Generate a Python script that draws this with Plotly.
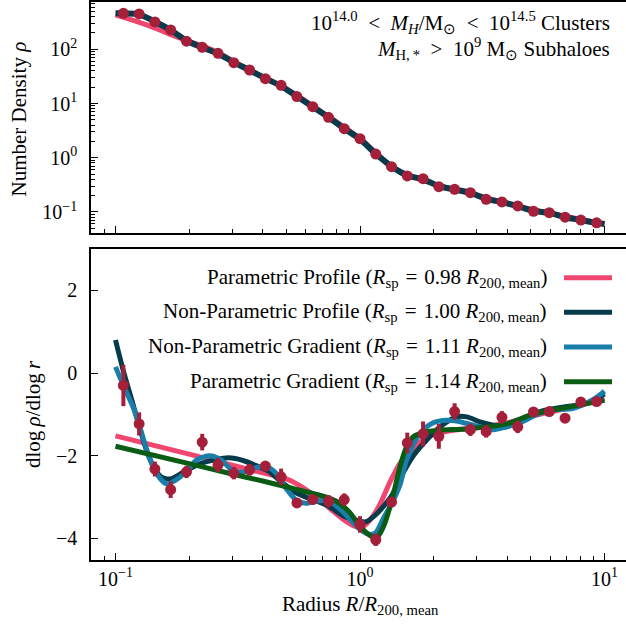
import plotly.graph_objects as go

# ---------------- data ----------------
radius = [0.1077, 0.1249, 0.1449, 0.1681, 0.1951, 0.2263, 0.2626, 0.3047, 0.3535, 0.4101,
          0.4758, 0.5521, 0.6405, 0.7431, 0.8621, 1.0, 1.160, 1.346, 1.561, 1.811,
          2.101, 2.438, 2.828, 3.281, 3.807, 4.417, 5.124, 5.945, 6.898, 8.003, 9.285]
density = [461, 448, 319, 227, 141, 109, 84.4, 56.6, 41.5, 28.7,
           21.7, 13.4, 8.73, 5.57, 3.44, 2.25, 1.17, 0.684, 0.461, 0.411,
           0.292, 0.262, 0.227, 0.171, 0.153, 0.129, 0.103, 0.097, 0.080, 0.071, 0.063]
slope = [-0.30, -1.23, -2.32, -2.82, -2.39, -1.67, -2.22, -2.42, -2.34, -2.25,
         -2.51, -3.14, -3.06, -3.10, -3.06, -3.66, -4.03, -3.12, -1.69, -1.47,
         -1.53, -0.93, -1.37, -1.41, -1.07, -1.30, -0.94, -0.93, -1.09, -0.70, -0.69]
slope_err = [0.50, 0.28, 0.18, 0.20, 0.15, 0.20, 0.17, 0.15, 0.14, 0.10,
             0.20, 0.12, 0.10, 0.15, 0.15, 0.20, 0.15, 0.12, 0.25, 0.30,
             0.30, 0.20, 0.15, 0.15, 0.15, 0.15, 0.06, 0.05, 0.04, 0.05, 0.10]

# top panel fitted profiles
np_prof_r = [0.1, 0.1077, 0.1249, 0.1449, 0.1681, 0.1951, 0.2263, 0.2626, 0.3047, 0.3535, 0.4101,
             0.4758, 0.5521, 0.6405, 0.7431, 0.8621, 1.0, 1.160, 1.346, 1.561, 1.811,
             2.101, 2.438, 2.828, 3.281, 3.807, 4.417, 5.124, 5.945, 6.898, 8.003, 9.285, 10.0]
np_prof_rho = [462, 460, 442, 322, 226, 145, 108, 83, 57.5, 41, 29,
               21, 13.6, 8.7, 5.6, 3.45, 2.2, 1.18, 0.69, 0.47, 0.40,
               0.30, 0.26, 0.225, 0.174, 0.152, 0.128, 0.105, 0.096, 0.080, 0.071, 0.063, 0.060]
p_prof_r = [0.1, 0.134, 0.184, 0.25, 0.35, 0.5, 0.7, 1.0, 1.4, 2.0, 3.0, 4.5, 6.5, 10.0]
p_prof_rho = [430, 281, 160, 97, 42, 18.5, 6.9, 2.25, 0.62, 0.33, 0.205, 0.125, 0.088, 0.060]

# bottom panel: gradients
p_prof_grad_r = [0.1, 0.2, 0.3, 0.4, 0.5, 0.567, 0.64, 0.745, 0.86, 0.95, 1.02, 1.1, 1.2, 1.33,
                 1.45, 1.58, 1.84, 2.14, 2.5, 3.0, 4.0, 5.0, 7.0, 10.0]
p_prof_grad = [-1.52, -1.96, -2.23, -2.41, -2.56, -2.72, -2.93, -3.25, -3.55, -3.70, -3.72, -3.55,
               -3.20, -2.62, -2.20, -1.94, -1.58, -1.44, -1.37, -1.32, -1.20, -1.05, -0.85, -0.62]

np_prof_grad_r = [0.1, 0.1077, 0.1185, 0.125, 0.135, 0.145, 0.153, 0.162, 0.17, 0.195, 0.22,
                  0.255, 0.29, 0.335, 0.38, 0.43, 0.47, 0.55, 0.64, 0.745, 0.86, 1.0, 1.05,
                  1.163, 1.352, 1.458, 1.652, 1.874, 2.125, 2.485, 2.731, 3.096, 3.51, 3.98,
                  4.51, 5.446, 7.0, 8.457, 10.0]
np_prof_grad = [0.80, 0.05, -0.80, -1.29, -1.93, -2.33, -2.50, -2.56, -2.55, -2.35, -2.20,
                -2.10, -2.05, -2.12, -2.25, -2.40, -2.60, -2.90, -3.06, -3.22, -3.46, -3.58, -3.60,
                -3.42, -2.95, -2.55, -2.00, -1.62, -1.30, -1.06, -1.06, -1.18, -1.26, -1.30,
                -1.14, -0.93, -0.81, -0.73, -0.50]

np_grad_r = [0.1, 0.1077, 0.1185, 0.125, 0.135, 0.145, 0.155, 0.163, 0.175, 0.195, 0.215,
             0.243, 0.27, 0.3, 0.33, 0.37, 0.41, 0.45, 0.5, 0.55, 0.6, 0.65, 0.75, 0.86,
             1.0, 1.1, 1.16, 1.25, 1.352, 1.458, 1.552, 1.76, 1.995, 2.262, 2.485, 2.731,
             3.096, 3.51, 3.98, 4.51, 5.446, 6.175, 7.455, 9.0, 10.0]
np_grad = [0.15, -0.30, -0.85, -1.25, -1.90, -2.35, -2.60, -2.68, -2.60, -2.38, -2.10,
           -2.00, -2.10, -2.35, -2.40, -2.30, -2.25, -2.40, -2.80, -3.08, -3.15, -3.10, -3.10, -3.38,
           -3.78, -3.90, -3.86, -3.50, -3.14, -2.70, -2.10, -1.46, -1.20, -1.14, -1.16, -1.22,
           -1.30, -1.37, -1.30, -1.20, -0.97, -0.89, -0.85, -0.64, -0.44]

p_grad_r = [0.1, 0.2, 0.3, 0.4, 0.5, 0.6, 0.7, 0.8, 0.9, 1.0, 1.1, 1.17, 1.25, 1.352, 1.458,
            1.552, 1.652, 1.874, 2.125, 2.731, 3.98, 5.114, 7.0, 10.0]
p_grad = [-1.77, -2.19, -2.44, -2.61, -2.75, -2.87, -2.97, -3.10, -3.35, -3.70, -3.93, -3.98,
          -3.70, -3.06, -2.26, -1.78, -1.54, -1.42, -1.38, -1.35, -1.23, -0.99, -0.83, -0.66]

x_tickvals = [0.1, 1, 10]
x_ticktext = ["10<sup>\u22121</sup>", "10<sup>0</sup>", "10<sup>1</sup>"]
y1_tickvals = [0.1, 1, 10, 100]
y1_ticktext = ["10<sup>\u22121</sup>", "10<sup>0</sup>", "10<sup>1</sup>", "10<sup>2</sup>"]
y2_tickvals = [-4, -2, 0, 2]

SP = "\u2002"
SL = "\u2004"
legend_labels = [
    f"Parametric Profile (<i>R</i><sub>sp</sub>{SL}={SL}0.98 <i>R</i><sub>200, mean</sub>)",
    f"Non-Parametric Profile (<i>R</i><sub>sp</sub>{SL}={SL}1.00 <i>R</i><sub>200, mean</sub>)",
    f"Non-Parametric Gradient (<i>R</i><sub>sp</sub>{SL}={SL}1.11 <i>R</i><sub>200, mean</sub>)",
    f"Parametric Gradient (<i>R</i><sub>sp</sub>{SL}={SL}1.14 <i>R</i><sub>200, mean</sub>)",
]

# ---------------- style ----------------
FONT = "Liberation Serif"
FS = 20
FS_TXT = 21
PINK = "#ef476f"
NAVY = "#073b4c"
BLUE = "#1a7eab"
GREEN = "#0a5c14"
RED = "#a4203a"
colors = [PINK, NAVY, BLUE, GREEN]

W, H = 626, 628
ML, MR, MT, MB = 91, 0, 2, 68
PW, PH = W - ML - MR, H - MT - MB


def px_x(p):
    return (p - ML) / PW


def px_y(p):
    return (H - MB - p) / PH


fig = go.Figure()

# top panel
fig.add_trace(go.Scatter(x=p_prof_r, y=p_prof_rho, mode="lines", line=dict(color=PINK, width=5, shape="spline"),
                         xaxis="x", yaxis="y", showlegend=False))
fig.add_trace(go.Scatter(x=np_prof_r, y=np_prof_rho, mode="lines", line=dict(color=NAVY, width=6, shape="spline"),
                         xaxis="x", yaxis="y", showlegend=False))
fig.add_trace(go.Scatter(x=radius, y=density, mode="markers", marker=dict(color=RED, size=11),
                         xaxis="x", yaxis="y", showlegend=False))

# bottom panel
for xs, ys, c in [(p_prof_grad_r, p_prof_grad, PINK), (np_prof_grad_r, np_prof_grad, NAVY),
                  (np_grad_r, np_grad, BLUE), (p_grad_r, p_grad, GREEN)]:
    fig.add_trace(go.Scatter(x=xs, y=ys, mode="lines", line=dict(color=c, width=5, shape="spline", smoothing=0.8),
                             xaxis="x2", yaxis="y2", showlegend=False))
fig.add_trace(go.Scatter(x=radius, y=slope, mode="markers", marker=dict(color=RED, size=11),
                         error_y=dict(type="data", array=slope_err, thickness=4, width=0, color=RED),
                         xaxis="x2", yaxis="y2", showlegend=False))

top_dom = [px_y(233), 1.0]
bot_dom = [0.0, px_y(249)]
xrange_ = [-1.1002, -1 + (W - 115.5) / 244.5]

axis_common = dict(showline=True, linecolor="black", linewidth=1.6, ticks="inside", tickcolor="black",
                   tickwidth=1.3, showgrid=False, zeroline=False,
                   tickfont=dict(family=FONT, size=FS, color="black"))

x_minor = [v * 10 ** k for k in (-2, -1, 0, 1) for v in range(2, 10)]
y1_minor = [v * 10 ** k for k in (-2, -1, 0, 1, 2) for v in range(2, 10)]

fig.update_layout(
    width=W, height=H, margin=dict(l=ML, r=MR, t=MT, b=MB),
    paper_bgcolor="white", plot_bgcolor="white",
    font=dict(family=FONT, size=FS, color="black"),
    xaxis=dict(type="log", range=xrange_, domain=[0, 1], anchor="y", mirror=True, ticklen=7,
               tickvals=x_tickvals, showticklabels=False,
               minor=dict(ticks="inside", ticklen=4, tickwidth=1.1, tickcolor="black", tickvals=x_minor),
               **axis_common),
    yaxis=dict(type="log", range=[-1.388, 2.872], domain=top_dom, anchor="x", ticklen=7,
               tickvals=y1_tickvals, ticktext=y1_ticktext, ticklabelstandoff=8,
               minor=dict(ticks="inside", ticklen=4, tickwidth=1.1, tickcolor="black", tickvals=y1_minor),
               **axis_common),
    xaxis2=dict(type="log", range=xrange_, domain=[0, 1], anchor="y2", mirror=True, ticklen=7,
                tickvals=x_tickvals, ticktext=x_ticktext, ticklabelstandoff=0,
                minor=dict(ticks="inside", ticklen=4, tickwidth=1.1, tickcolor="black", tickvals=x_minor),
                **axis_common),
    yaxis2=dict(range=[-4.52, 3.0], domain=bot_dom, anchor="x2", ticklen=7, tickvals=y2_tickvals,
                ticklabelstandoff=8, **axis_common),
)

annotations = [
    dict(text="Number Density <i>\u03c1</i>", x=px_x(18.5), y=px_y(119), textangle=-90),
    dict(text="dlog\u2009<i>\u03c1</i>/dlog\u2009<i>r</i>", x=px_x(33), y=px_y(414), textangle=-90),
    dict(text="Radius <i>R</i>/<i>R</i><sub>200, mean</sub>", x=px_x(360), y=px_y(605)),
    dict(text=f"10<sup>14.0</sup>{SP}<{SP}<i>M<sub>H</sub></i>/M<sub>\u2299</sub>{SP}<{SP}10<sup>14.5</sup> Clusters",
         x=px_x(612), y=px_y(23), xanchor="right"),
    dict(text=f"<i>M</i><sub>H,\u2009*</sub>{SP}>{SP}10<sup>9</sup> M<sub>\u2299</sub> Subhaloes",
         x=px_x(612), y=px_y(49), xanchor="right"),
]
leg_y = [277.7, 312.3, 347, 381.7]
for lab, ly in zip(legend_labels, leg_y):
    annotations.append(dict(text=lab, x=px_x(549), y=px_y(ly), xanchor="right"))

for a in annotations:
    a.setdefault("xanchor", "center")
    a.update(xref="paper", yref="paper", showarrow=False, yanchor="middle",
             font=dict(family=FONT, size=FS_TXT, color="black"))
fig.update_layout(annotations=annotations)

shapes = []
for c, ly in zip(colors, leg_y):
    shapes.append(dict(type="line", xref="paper", yref="paper", x0=px_x(564), x1=px_x(612),
                       y0=px_y(ly), y1=px_y(ly), line=dict(color=c, width=5)))
fig.update_layout(shapes=shapes)

fig.write_html("out.html")
